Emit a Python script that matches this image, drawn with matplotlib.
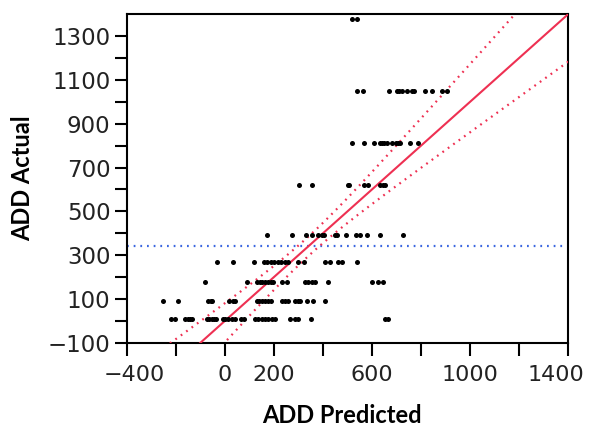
import numpy as np
import matplotlib
matplotlib.use("Agg")
import matplotlib.pyplot as plt
import matplotlib.transforms as mtransforms
from matplotlib.ticker import FixedLocator, NullFormatter

# Actual levels (y) and the predicted values (x) observed at each level
levels = [1380, 1050, 810, 620, 390, 270, 175, 90, 10]
pred_1380 = [520, 537]
pred_1050 = [540, 564, 671, 701, 710, 721, 742, 764, 773, 816, 846, 884, 905]
pred_810 = [517, 567, 609, 633, 642, 650, 660, 680, 697, 707, 716, 755, 787]
pred_620 = [302, 354, 501, 508, 569, 585, 633, 644, 653]
pred_390 = [173, 272, 331, 357, 380, 395, 405, 449, 457, 495, 534, 550, 581, 633, 728]
pred_270 = [-34, 34, 120, 159, 173, 188, 202, 216, 229, 245, 258, 297, 324, 408,
            429, 462, 476, 539]
pred_175 = [-80, 89, 129, 141, 151, 163, 177, 188, 197, 231, 252, 327, 340, 354,
            367, 419, 599, 626, 646]
pred_90 = [-254, -192, -68, -58, -51, 18, 31, 41, 131, 139, 151, 163, 176, 188,
           231, 245, 258, 284, 297, 306, 333, 360, 408]
pred_10 = [-220, -204, -163, -151, -141, -133, -75, -65, -55, -45, -35, -10, 2, 13,
           29, 39, 65, 76, 122, 136, 150, 163, 177, 191, 204, 267, 286, 299, 351,
           655, 667]
pred_rows = [pred_1380, pred_1050, pred_810, pred_620, pred_390, pred_270,
             pred_175, pred_90, pred_10]

# confidence-curve parameters
band_a = 22.0
band_b = 0.112

x_ticks = [-400, 0, 200, 600, 1000, 1400]
x_ticklabels = ["\u2212400", "0", "200", "600", "1000", "1400"]
x_minor = [-200, 400, 800, 1200]
y_ticks = [-100, 100, 300, 500, 700, 900, 1100, 1300]
y_ticklabels = ["\u2212100", "100", "300", "500", "700", "900", "1100", "1300"]
y_minor = [0, 200, 400, 600, 800, 1000, 1200]

predicted = np.concatenate([np.array(r, float) for r in pred_rows])
actual = np.concatenate([np.full(len(r), lv, float) for r, lv in zip(pred_rows, levels)])
mean_actual = actual.mean()

fig = plt.figure(figsize=(5.92, 4.28), dpi=100)
ax = fig.add_axes([0.2145, 0.1993, 0.9595 - 0.2145, 0.9666 - 0.1993])

red = "#EE3052"
dot = (0, (0.8, 2.2))
t = np.linspace(-700, 1800, 600)
h = np.sqrt(band_a ** 2 + band_b ** 2 * (t - mean_actual) ** 2)
ax.plot(t, t, color=red, lw=1.5, zorder=3)
ax.plot(t - h, t + h, color=red, lw=1.6, ls=dot, zorder=3)
ax.plot(t + h, t - h, color=red, lw=1.6, ls=dot, zorder=3)
ax.axhline(mean_actual, color="#3A66E0", lw=1.6, ls=dot, zorder=2)

ax.scatter(predicted, actual, s=13, color="black", zorder=4, linewidths=0)

ax.set_xlim(-400, 1400)
ax.set_ylim(-100, 1400)

ax.xaxis.set_major_locator(FixedLocator(x_ticks))
ax.set_xticklabels(x_ticklabels)
ax.xaxis.set_minor_locator(FixedLocator(x_minor))
ax.yaxis.set_major_locator(FixedLocator(y_ticks))
ax.set_yticklabels(y_ticklabels)
ax.yaxis.set_minor_locator(FixedLocator(y_minor))
ax.xaxis.set_minor_formatter(NullFormatter())
ax.yaxis.set_minor_formatter(NullFormatter())

for which in ("major", "minor"):
    ax.tick_params(axis="both", which=which, direction="out", length=9, width=1.5,
                   color="black")
ax.tick_params(axis="x", which="major", labelsize=16, pad=7, labelcolor="#222222")
ax.tick_params(axis="y", which="major", labelsize=16.5, pad=3, labelcolor="#222222")
for lab in ax.get_xticklabels() + ax.get_yticklabels():
    lab.set_family("DejaVu Sans")

xl = ax.get_xticklabels()
xl[0].set_transform(xl[0].get_transform() +
                    mtransforms.ScaledTranslation(7 / 100, 0, fig.dpi_scale_trans))
xl[-1].set_transform(xl[-1].get_transform() +
                     mtransforms.ScaledTranslation(-12 / 100, 0, fig.dpi_scale_trans))

for sp in ax.spines.values():
    sp.set_linewidth(1.5)
    sp.set_color("black")

ax.set_xlabel("ADD Predicted", fontsize=17, fontweight="bold", family="Lato",
              labelpad=14)
ax.xaxis.label.set_x(0.4875)
ax.set_ylabel("ADD Actual", fontsize=17, fontweight="bold", family="Lato",
              labelpad=10)

fig.savefig("out.png", dpi=100)
